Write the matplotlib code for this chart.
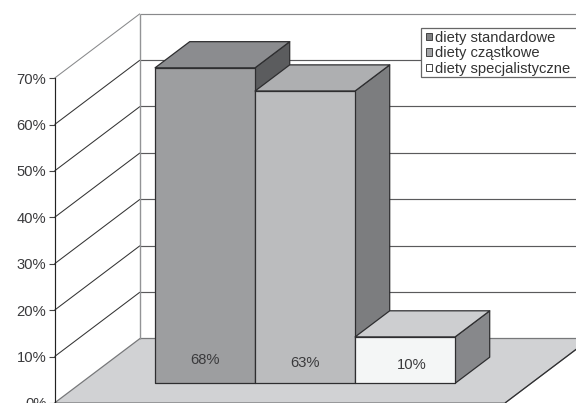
import matplotlib
matplotlib.use("Agg")
import matplotlib.pyplot as plt
from matplotlib.patches import Patch, Polygon, Rectangle

plt.rcParams['font.family'] = ['Liberation Sans', 'DejaVu Sans']

categories = ['diety standardowe', 'diety cząstkowe', 'diety specjalistyczne']
values = [68, 63, 10]
value_labels = ['68%', '63%', '10%']
y_ticks = [0, 10, 20, 30, 40, 50, 60, 70]

front_colors = ['#9d9ea0', '#bbbcbe', '#f4f6f6']
top_colors = ['#8b8c8f', '#aeafb1', '#cdced0']
side_colors = ['#5b5c5e', '#7c7d7f', '#87888b']
legend_colors = ['#808183', '#a3a4a6', '#ffffff']
# label height above the bar base and sideways nudge, per bar
label_heights = [5.0, 4.3, 3.9]
label_nudge = [0.0, 0.0, 0.07]

# oblique projection: how far the back of the chart is shifted
depth_x = 0.855
depth_y = 13.9
floor_width = 4.505
bar_x0 = 0.745
bar_z0 = 0.305
bar_z1 = 0.71
font_size = 10.6


def project(x, y, z):
    return x + z * depth_x, y + z * depth_y


def face(ax, corners, color, zorder, edge='#2e2e30', lw=0.9):
    ax.add_patch(Polygon([project(*c) for c in corners], closed=True, facecolor=color,
                         edgecolor=edge, linewidth=lw, joinstyle='round', zorder=zorder))


def line3d(ax, p, q, color, lw=0.85, zorder=2):
    a, b = project(*p), project(*q)
    ax.plot([a[0], b[0]], [a[1], b[1]], color=color, linewidth=lw, zorder=zorder,
            solid_capstyle='butt')


fig = plt.figure(figsize=(5.76, 4.03), dpi=100)
ax = fig.add_axes([0, 0, 1, 1])
ax.set_xlim(-0.545, 5.215)
ax.set_ylim(0, 86.85)
ax.patch.set_alpha(0)

# floor
face(ax, [(0, 0, 0), (floor_width, 0, 0), (floor_width, 0, 1), (0, 0, 1)], '#d1d2d4', 1,
     edge='#77787a', lw=0.9)
line3d(ax, (floor_width, 0, 0), (floor_width, 0, 1), '#2e2e30', zorder=1.5)

# walls and gridlines
for t in y_ticks[1:]:
    edge_color = '#88898b' if t == 70 else '#333333'
    back_color = '#88898b' if t == 70 else '#5a5a5c'
    line3d(ax, (0, t, 0), (0, t, 1), edge_color, lw=0.75)
    line3d(ax, (0, t, 1), (floor_width, t, 1), back_color)
line3d(ax, (0, 0, 1), (0, 70, 1), '#939496', lw=1.0)

# bars, left to right so each one overlaps the side of the previous
for i, v in enumerate(values):
    x0 = bar_x0 + i
    x1 = x0 + 1
    face(ax, [(x1, 0, bar_z0), (x1, 0, bar_z1), (x1, v, bar_z1), (x1, v, bar_z0)], side_colors[i], 3 + i)
    face(ax, [(x0, v, bar_z0), (x1, v, bar_z0), (x1, v, bar_z1), (x0, v, bar_z1)], top_colors[i], 3 + i)
    face(ax, [(x0, 0, bar_z0), (x1, 0, bar_z0), (x1, v, bar_z0), (x0, v, bar_z0)], front_colors[i], 3 + i)
    tx, ty = project(x0 + 0.5 + label_nudge[i], label_heights[i], bar_z0)
    ax.text(tx, ty, value_labels[i], ha='center', va='center', fontsize=font_size, color='#3a3a3c', zorder=8)

# value axis on the front left edge
for name in ['top', 'right', 'bottom']:
    ax.spines[name].set_visible(False)
ax.spines['left'].set_position(('data', 0))
ax.spines['left'].set_bounds(0, 70)
ax.spines['left'].set_linewidth(0.85)
ax.spines['left'].set_color('#222222')
ax.set_xticks([])
ax.set_yticks(y_ticks)
ax.set_yticklabels([f'{t}%' for t in y_ticks], fontsize=font_size, color='#3a3a3c')
ax.tick_params(axis='y', length=4.3, width=0.8, color='#444444', pad=1.5)

# legend box runs off the right edge, so it is drawn apart from the legend itself
ax.add_patch(Rectangle((0.7305, 0.809), 0.28, 0.122, transform=ax.transAxes, facecolor='white',
                       edgecolor='#666666', linewidth=0.9, zorder=9))
handles = [Patch(facecolor=c, edgecolor='#444444', linewidth=0.7) for c in legend_colors]
leg = ax.legend(handles, categories, loc='upper left', bbox_to_anchor=(0.7305, 0.931),
                fontsize=font_size, frameon=False, borderpad=0.2, labelspacing=0.1,
                handlelength=0.6, handleheight=0.38, handletextpad=0.18, borderaxespad=0,
                labelcolor='#333333')
leg.set_zorder(10)
for patch in leg.get_patches():
    patch.set_x(1.7)
    patch.set_width(4)

fig.savefig('out.png', dpi=100)
